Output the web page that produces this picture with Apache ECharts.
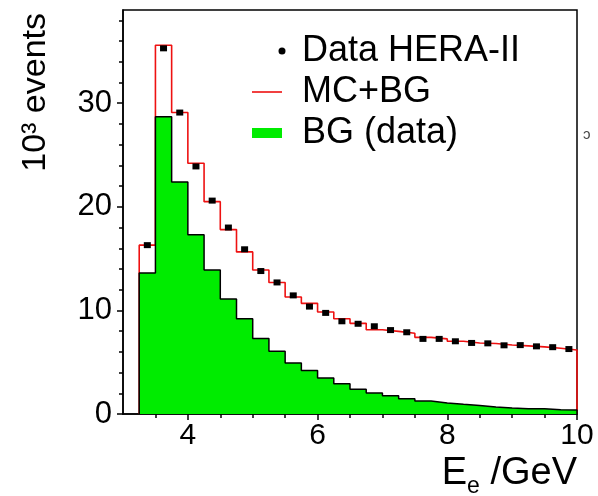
<!DOCTYPE html>
<html>
<head>
<meta charset="utf-8">
<script src="https://cdn.jsdelivr.net/npm/echarts@6/dist/echarts.min.js"></script>
<style>
html,body{margin:0;padding:0;background:#fff;}
#chart{width:598px;height:496px;}
</style>
</head>
<body>
<div id="chart"></div>
<script>
// ---- data (units: 10^3 events) ----
const binEdges = [3.25, 3.5, 3.75, 4.0, 4.25, 4.5, 4.75, 5.0, 5.25, 5.5, 5.75, 6.0, 6.25, 6.5,
                  6.75, 7.0, 7.25, 7.5, 7.75, 8.0, 8.25, 8.5, 8.75, 9.0, 9.25, 9.5, 9.75, 10.0];
const dataHeraII = [16.3, 35.3, 29.1, 23.9, 20.6, 18.0, 15.9, 13.8, 12.7, 11.45, 10.37, 9.76, 8.95, 8.71,
                    8.47, 8.1, 7.89, 7.25, 7.25, 7.02, 6.86, 6.82, 6.63, 6.65, 6.53, 6.45, 6.27];
const mcPlusBg = [16.3, 35.6, 29.1, 24.2, 20.5, 17.8, 15.65, 13.9, 12.7, 11.3, 10.68, 9.85, 9.2, 8.75,
                  8.14, 7.98, 7.8, 7.4, 7.25, 7.02, 6.86, 6.8, 6.66, 6.58, 6.48, 6.35, 6.18];
const bgData = [13.6, 28.7, 22.4, 17.3, 13.9, 11.1, 9.2, 7.3, 6.05, 4.93, 4.2, 3.48, 2.93, 2.4,
                2.03, 1.77, 1.48, 1.25, 1.06, 0.93, 0.83, 0.67, 0.58, 0.51, 0.51, 0.42, 0.38];
const seriesNames = ['Data HERA-II', 'MC+BG', 'BG (data)'];
const xLabelTicks = [4, 6, 8, 10];
const xMinorTicks = [3.5, 4.5, 5, 5.5, 6.5, 7, 7.5, 8.5, 9, 9.5];
const yLabelTicks = [0, 10, 20, 30];
const yMinorTicks = [2, 4, 6, 8, 12, 14, 16, 18, 22, 24, 26, 28, 32, 34, 36, 38];

// ---- build step outlines (histogram) and bin-centred points ----
function histSteps(values) {
  const last = binEdges[binEdges.length - 1];
  const pts = [[binEdges[0], 0]];
  values.forEach((v, i) => pts.push([binEdges[i], v]));
  pts.push([last, values[values.length - 1]]);
  pts.push([last, 0]);
  return pts;
}
const centers = binEdges.slice(0, -1).map((e, i) => (e + binEdges[i + 1]) / 2);
const dataPoints = centers.map((c, i) => [c, dataHeraII[i]]);

const FONT = "'Liberation Sans', Arial, Helvetica, sans-serif";
const chart = echarts.init(document.getElementById('chart'), null, {renderer: 'canvas'});

chart.setOption({
  animation: false,
  backgroundColor: '#fff',
  grid: {
    left: 123, right: 21, top: 10, bottom: 82,
    show: true, borderColor: '#000', borderWidth: 1.5, backgroundColor: 'transparent',
    containLabel: false, outerBoundsMode: 'none'
  },
  legend: {
    orient: 'vertical', left: 252, top: 33, padding: 0, itemGap: 5,
    itemWidth: 45, itemHeight: 10, selectedMode: false,
    textStyle: {fontSize: 36, fontFamily: FONT, color: '#000', lineHeight: 36},
    data: [
      {name: seriesNames[0], icon: 'path://M0,0 M45,10 M26.5,5 A3.5,3.5 0 1,1 33.5,5 A3.5,3.5 0 1,1 26.5,5 Z',
       itemStyle: {color: '#000', borderWidth: 0, opacity: 1}},
      {name: seriesNames[1], icon: 'path://M0,0 M45,10 M0,4.2 L30,4.2 L30,5.8 L0,5.8 Z',
       itemStyle: {color: '#ee1111', borderWidth: 0, opacity: 1}},
      {name: seriesNames[2], icon: 'path://M0,0 M45,10 M0,0 L30,0 L30,10 L0,10 Z',
       itemStyle: {color: '#00ec00', borderWidth: 0, opacity: 1}}
    ]
  },
  xAxis: [
    {
      type: 'value', min: 3, max: 10, interval: 1, position: 'bottom',
      axisLine: {show: true, onZero: false, lineStyle: {color: '#000', width: 1.5}},
      axisTick: {show: true, customValues: xLabelTicks, length: 6, inside: false, lineStyle: {color: '#000', width: 1.5}},
      axisLabel: {show: true, customValues: xLabelTicks, fontSize: 30, fontFamily: FONT, color: '#000', margin: 7},
      splitLine: {show: false},
      name: 'E{s|e} /GeV', nameLocation: 'end', nameGap: 0, nameMoveOverlap: false,
      nameTextStyle: {
        fontSize: 38, fontFamily: FONT, color: '#000', align: 'right', verticalAlign: 'top',
        lineHeight: 48, padding: [36, 0, 0, 0],
        rich: {s: {fontSize: 23, fontFamily: FONT, color: '#000', verticalAlign: 'bottom', lineHeight: 48}}
      }
    },
    {
      type: 'value', min: 3, max: 10, interval: 1, position: 'bottom', offset: 0,
      axisLine: {show: false, onZero: false},
      axisTick: {show: true, customValues: xMinorTicks, length: 4, inside: false, lineStyle: {color: '#000', width: 1.5}},
      axisLabel: {show: false},
      splitLine: {show: false}
    }
  ],
  yAxis: [
    {
      type: 'value', min: 0, max: 39, interval: 10, position: 'left', offset: 0,
      axisLine: {show: true, onZero: false, lineStyle: {color: '#000', width: 1.5}},
      axisTick: {show: true, customValues: yLabelTicks, length: 6, inside: false, lineStyle: {color: '#000', width: 1.5}},
      axisLabel: {show: true, customValues: yLabelTicks, fontSize: 31, fontFamily: FONT, color: '#000', margin: 11},
      splitLine: {show: false},
      name: '10\u00B3 events', nameLocation: 'end', nameRotate: 90, nameGap: -3, nameMoveOverlap: false,
      nameTextStyle: {
        fontSize: 34, fontFamily: FONT, color: '#000', align: 'right', verticalAlign: 'bottom',
        padding: [0, 0, 70, 0]
      }
    },
    {
      type: 'value', min: 0, max: 39, interval: 10, position: 'left', offset: 0,
      axisLine: {show: false, onZero: false},
      axisTick: {show: true, customValues: yMinorTicks, length: 4, inside: false, lineStyle: {color: '#000', width: 1.5}},
      axisLabel: {show: false},
      splitLine: {show: false}
    }
  ],
  graphic: [
    {type: 'text', left: 583, top: 127, silent: true,
     style: {text: '\u0254', fontSize: 15, fontFamily: FONT, fill: '#444'}}
  ],
  series: [
    {
      name: seriesNames[1], type: 'line', step: 'end', xAxisIndex: 0, yAxisIndex: 0,
      data: histSteps(mcPlusBg), showSymbol: false, symbol: 'none', silent: true, z: 2,
      lineStyle: {color: '#ee1111', width: 1.6}, itemStyle: {color: '#ee1111'}
    },
    {
      name: seriesNames[2], type: 'line', step: 'end', xAxisIndex: 0, yAxisIndex: 0,
      data: histSteps(bgData), showSymbol: false, symbol: 'none', silent: true, z: 3,
      lineStyle: {color: '#000', width: 1.5}, itemStyle: {color: '#00ec00'},
      areaStyle: {color: '#00ec00', opacity: 1}
    },
    {
      name: seriesNames[0], type: 'scatter', xAxisIndex: 0, yAxisIndex: 0,
      data: dataPoints, symbol: 'rect', symbolSize: [7, 6], silent: true, z: 4,
      itemStyle: {color: '#000', opacity: 1}
    }
  ]
});
</script>
</body>
</html>
